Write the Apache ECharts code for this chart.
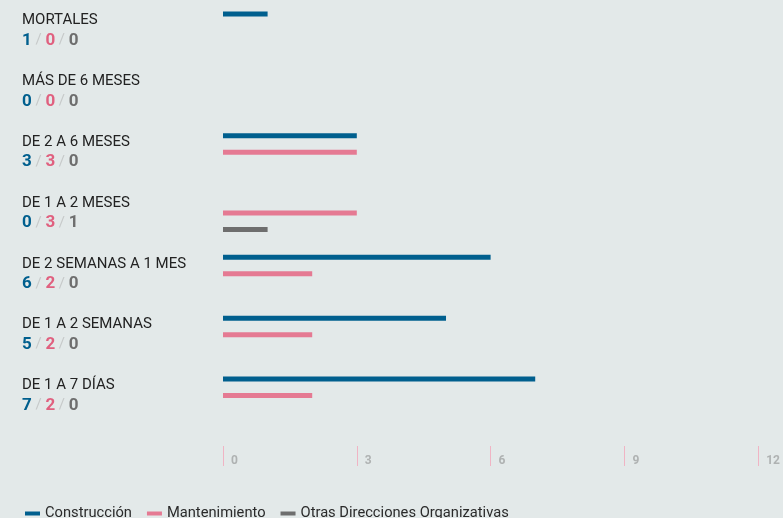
<!DOCTYPE html>
<html>
<head>
<meta charset="utf-8">
<script src="https://cdn.jsdelivr.net/npm/echarts@6/dist/echarts.min.js"></script>
<style>
html,body{margin:0;padding:0;background:#e3e9e9;}
#c{width:783px;height:518px;}
</style>
</head>
<body>
<div id="c"></div>
<script>
const categories = ['MORTALES','MÁS DE 6 MESES','DE 2 A 6 MESES','DE 1 A 2 MESES','DE 2 SEMANAS A 1 MES','DE 1 A 2 SEMANAS','DE 1 A 7 DÍAS'];
const construccion = [1,0,3,0,6,5,7];
const mantenimiento = [0,0,3,3,2,2,2];
const otras = [0,0,0,1,0,0,0];
const seriesNames = ['Construcción','Mantenimiento','Otras Direcciones Organizativas'];
const xTicks = [0,3,6,9,12];

const colors = ['#005f8e','#e57a93','#6e6e6e'];
const chart = echarts.init(document.getElementById('c'));
const mkSeries = (name, data, color) => ({
  name, type:'bar', data, barWidth:5, barGap:'230%',
  itemStyle:{color}, silent:true
});
chart.setOption({
  backgroundColor:'#e3e9e9',
  animation:false,
  textStyle:{fontFamily:'Roboto'},
  grid:{left:223, right:23, top:-1, height:427, containLabel:false},
  legend:{
    left:20, top:501, icon:'rect', itemWidth:15, itemHeight:4, itemGap:15,
    textStyle:{fontFamily:'Roboto', fontSize:14.7, color:'#2a2a2a'},
    data:seriesNames
  },
  xAxis:{
    type:'value', min:0, max:12, interval:3, position:'bottom', offset:20,
    axisLine:{show:false},
    axisTick:{show:true, length:20, lineStyle:{color:'#f0b4c4', width:1}},
    splitLine:{show:false},
    axisLabel:{
      align:'left', margin:9, padding:[0,0,0,8],
      color:'#afb2b2', fontSize:12, fontWeight:'bold', fontFamily:'Roboto',
      formatter:(v)=> xTicks.includes(v) ? String(v) : ''
    }
  },
  yAxis:{
    type:'category', data:categories, inverse:true,
    axisLine:{show:false}, axisTick:{show:false}, splitLine:{show:false},
    axisLabel:{
      align:'left', margin:201,
      formatter:(v, i)=> '{n|' + v + '}\n{b|' + construccion[i] + '}{s| / }{p|' + mantenimiento[i] + '}{s| / }{g|' + otras[i] + '}',
      rich:{
        n:{fontFamily:'Roboto', fontSize:15, color:'#222', lineHeight:20},
        b:{fontFamily:'Roboto', fontSize:17, fontWeight:'bold', color:colors[0], lineHeight:20},
        p:{fontFamily:'Roboto', fontSize:17, fontWeight:'bold', color:'#e0607f', lineHeight:20},
        g:{fontFamily:'Roboto', fontSize:17, fontWeight:'bold', color:colors[2], lineHeight:20},
        s:{fontFamily:'Roboto', fontSize:15, color:'#c6c9c9', lineHeight:20}
      }
    }
  },
  series:[
    mkSeries(seriesNames[0], construccion, colors[0]),
    mkSeries(seriesNames[1], mantenimiento, colors[1]),
    mkSeries(seriesNames[2], otras, colors[2])
  ]
});
</script>
</body>
</html>
